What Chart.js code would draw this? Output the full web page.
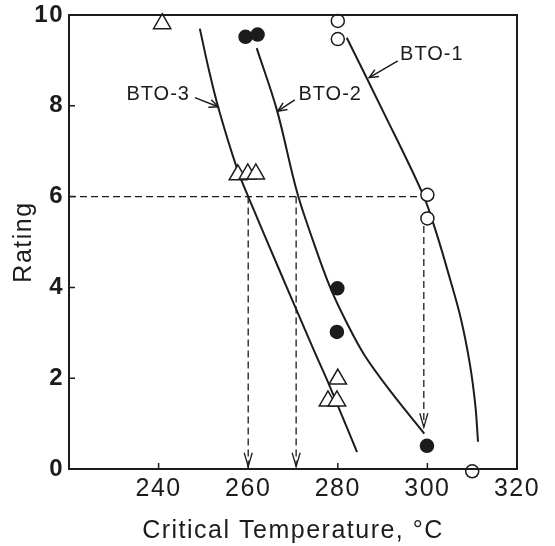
<!DOCTYPE html>
<html>
<head>
<meta charset="utf-8">
<script src="https://cdn.jsdelivr.net/npm/chart.js@4.4.1/dist/chart.umd.min.js"></script>
<style>
  html, body { margin: 0; padding: 0; background: #fff; }
  #wrap { position: relative; width: 555px; height: 546px; }
</style>
</head>
<body>
<div id="wrap"><canvas id="chart"></canvas></div>
<script>
// measured points (critical temperature in C, rating)
const bto1Temp = [280, 280, 300, 300, 310];
const bto1Rating = [9.87, 9.47, 6.04, 5.52, -0.05];
const bto2Temp = [259.4, 262.1, 279.9, 279.8, 299.9];
const bto2Rating = [9.52, 9.57, 3.98, 3.02, 0.51];
const bto3Temp = [240.8, 257.7, 259.9, 261.7, 280, 277.8, 279.8];
const bto3Rating = [9.81, 6.48, 6.5, 6.5, 1.98, 1.5, 1.5];

// fitted curves
const fit1Temp = [282, 290, 299, 302, 305, 307.5, 309.5, 310.7, 311.3];
const fit1Rating = [9.5, 7.9, 6.05, 5.2, 4.2, 3.3, 2.3, 1.4, 0.6];
const fit2Temp = [261.9, 266.4, 270.9, 274.5, 278.3, 282, 286, 292, 299.3];
const fit2Rating = [9.27, 7.91, 6.1, 5.02, 4.0, 3.22, 2.5, 1.68, 0.78];
const fit3Temp = [249.2, 251.2, 253.3, 257.4, 260, 267.1, 270.8, 274.5, 278.3, 284.3];
const fit3Rating = [9.7, 8.8, 7.97, 6.65, 6.0, 4.35, 3.5, 2.65, 1.8, 0.37];

// rating 6 read-off guides
const guideRating = 6;
const guideTemps = [260, 270.7, 299.2];
const guideTop = [6, 6, 5.35];
const guideTip = [0.05, 0.05, 0.92];

// curve labels with pointer arrows
const labelText = ['BTO-1', 'BTO-2', 'BTO-3'];
const labelAt = [[301, 9.12], [278.3, 8.24], [239.9, 8.24]];
const pointerFrom = [[293.4, 8.99], [270.4, 8.13], [248.1, 8.18]];
const pointerTo = [[287.0, 8.62], [266.6, 7.88], [253.3, 7.98]];

const ink = '#1c1c1c';
const fontFamily = '"Liberation Sans", Arial, Helvetica, sans-serif';
Chart.defaults.font.family = fontFamily;
Chart.defaults.color = ink;

const pts = (xs, ys) => xs.map((x, i) => ({ x: x, y: ys[i] }));

function markerSet(xs, ys, style, radius, fill) {
    return {
        type: 'scatter',
        data: pts(xs, ys),
        pointStyle: style,
        pointRadius: radius,
        pointHoverRadius: radius,
        pointBackgroundColor: fill,
        pointBorderColor: ink,
        pointBorderWidth: 1.5,
        clip: false,
        order: 0
    };
}

function curveSet(xs, ys) {
    return {
        type: 'line',
        data: pts(xs, ys),
        borderColor: ink,
        borderWidth: 2,
        pointRadius: 0,
        tension: 0.35,
        fill: false,
        clip: false,
        order: 2
    };
}

function dashSet(data) {
    return {
        type: 'line',
        data: data,
        borderColor: ink,
        borderWidth: 1.3,
        borderDash: [7, 4],
        pointRadius: 0,
        tension: 0,
        fill: false,
        order: 3
    };
}

function arrowHead(ctx, fx, fy, tx, ty, len, half) {
    const dx = tx - fx, dy = ty - fy;
    const d = Math.hypot(dx, dy) || 1;
    const ux = dx / d, uy = dy / d;
    const bx = tx - ux * len, by = ty - uy * len;
    ctx.beginPath();
    ctx.moveTo(bx - uy * half, by + ux * half);
    ctx.lineTo(tx, ty);
    ctx.lineTo(bx + uy * half, by - ux * half);
    ctx.stroke();
}

const decorations = {
    id: 'decorations',
    beforeDraw(chart) {
        // the old figure's lettering is spaced out a little
        chart.ctx.letterSpacing = '1.5px';
    },
    afterDatasetsDraw(chart) {
        const { ctx, chartArea: a, scales: { x, y } } = chart;
        ctx.save();
        ctx.strokeStyle = ink;
        ctx.fillStyle = ink;

        // frame
        ctx.lineWidth = 2;
        ctx.strokeRect(a.left, a.top, a.right - a.left, a.bottom - a.top);

        // inward tick marks
        ctx.lineWidth = 1.5;
        ctx.beginPath();
        y.ticks.forEach(t => {
            if (t.value <= y.min || t.value >= y.max) return;
            const py = y.getPixelForValue(t.value);
            ctx.moveTo(a.left, py);
            ctx.lineTo(a.left + 6, py);
        });
        x.ticks.forEach(t => {
            if (t.value <= x.min || t.value >= x.max) return;
            const px = x.getPixelForValue(t.value);
            ctx.moveTo(px, a.bottom);
            ctx.lineTo(px, a.bottom - 6);
        });
        ctx.stroke();

        // heads on the dashed drops
        ctx.lineWidth = 1.3;
        guideTemps.forEach((t, i) => {
            const px = x.getPixelForValue(t);
            arrowHead(ctx, px, y.getPixelForValue(guideTop[i]), px, y.getPixelForValue(guideTip[i]), 14, 4);
        });

        // curve labels
        ctx.lineWidth = 1.5;
        ctx.font = '20px ' + fontFamily;
        ctx.textAlign = 'center';
        ctx.textBaseline = 'middle';
        ctx.letterSpacing = '1px';
        labelText.forEach((txt, i) => {
            ctx.fillText(txt, x.getPixelForValue(labelAt[i][0]), y.getPixelForValue(labelAt[i][1]));
            const fx = x.getPixelForValue(pointerFrom[i][0]), fy = y.getPixelForValue(pointerFrom[i][1]);
            const tx = x.getPixelForValue(pointerTo[i][0]), ty = y.getPixelForValue(pointerTo[i][1]);
            ctx.beginPath();
            ctx.moveTo(fx, fy);
            ctx.lineTo(tx, ty);
            ctx.stroke();
            arrowHead(ctx, fx, fy, tx, ty, 9, 4);
        });
        ctx.restore();
    }
};

const datasets = [
    markerSet(bto1Temp, bto1Rating, 'circle', 6.5, '#ffffff'),
    markerSet(bto2Temp, bto2Rating, 'circle', 6.5, ink),
    markerSet(bto3Temp, bto3Rating, 'triangle', 10, '#ffffff'),
    curveSet(fit1Temp, fit1Rating),
    curveSet(fit2Temp, fit2Rating),
    curveSet(fit3Temp, fit3Rating),
    dashSet([{ x: 220, y: guideRating }, { x: guideTemps[2] + 0.1, y: guideRating }])
];
guideTemps.forEach((t, i) => {
    datasets.push(dashSet([{ x: t, y: guideTop[i] }, { x: t, y: guideTip[i] }]));
});

new Chart(document.getElementById('chart'), {
    type: 'scatter',
    data: { datasets: datasets },
    options: {
        responsive: true,
        maintainAspectRatio: false,
        animation: false,
        events: [],
        layout: { padding: { left: 0, top: 15, right: 38, bottom: 0 } },
        plugins: {
            legend: { display: false },
            tooltip: { enabled: false }
        },
        scales: {
            x: {
                type: 'linear',
                min: 220,
                max: 320,
                afterFit: s => {
                    s.height = 77;
                    s.paddingLeft = 0;
                    s.paddingRight = 0;
                },
                grid: { display: false, drawTicks: false },
                border: { display: false },
                ticks: {
                    stepSize: 20,
                    padding: 5,
                    maxRotation: 0,
                    font: { size: 25 },
                    callback: v => (v === 220 ? '' : v)
                },
                title: {
                    display: true,
                    text: 'Critical Temperature, °C',
                    font: { size: 25 },
                    padding: { top: 0, bottom: 0 }
                }
            },
            y: {
                min: 0,
                max: 10,
                afterFit: s => {
                    s.width = 69;
                    s.paddingTop = 0;
                    s.paddingBottom = 0;
                },
                grid: { display: false, drawTicks: false },
                border: { display: false },
                ticks: {
                    stepSize: 2,
                    padding: 5,
                    font: { size: 24, weight: 'bold' }
                },
                title: {
                    display: true,
                    text: 'Rating',
                    font: { size: 25 },
                    padding: { top: 9, bottom: 0 }
                }
            }
        }
    },
    plugins: [decorations]
});
</script>
</body>
</html>
